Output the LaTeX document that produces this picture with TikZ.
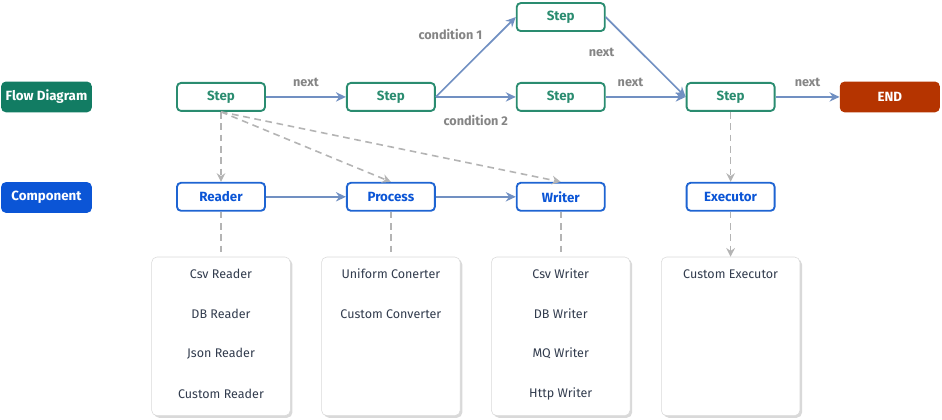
\documentclass[tikz,border=0pt]{standalone}
\usepackage{fontspec}
\setmainfont{Fira Sans}
\usetikzlibrary{arrows.meta,positioning,shadows}
\usepackage{xcolor}
\definecolor{flowgreen}{HTML}{127C63}
\definecolor{stepgreen}{HTML}{2A8C70}
\definecolor{compblue}{HTML}{0B55D6}
\definecolor{boxblue}{HTML}{1E64D2}
\definecolor{endred}{HTML}{B53400}
\definecolor{linkblue}{HTML}{7190C2}
\definecolor{dashgray}{HTML}{B4B4B4}
\definecolor{labelgray}{HTML}{858585}
\definecolor{itemtext}{HTML}{323C4E}
\tikzstyle{flow} = [
    -{Stealth[length=7.5pt,width=7pt]},
    line width=1.25pt,
    draw=linkblue
]
\tikzstyle{uses} = [
    -{Stealth[length=6.5pt,width=6.5pt]},
    line width=1.2pt,
    dash pattern=on 5pt off 3.5pt,
    draw=dashgray
]

\begin{document}
\begin{tikzpicture}[
    node distance=37.5pt and 60pt,
    stepbox/.style={
        draw=stepgreen,
        line width=1.4pt,
        rounded corners=3pt,
        fill=white,
        text=stepgreen,
        font=\fontsize{10}{12}\selectfont\bfseries,
        minimum width=66pt,
        minimum height=21pt
    },
    compbox/.style={
        stepbox,
        draw=boxblue,
        text=compblue
    },
    tagbox/.style={
        rounded corners=3.5pt,
        text=white,
        font=\fontsize{10}{12}\selectfont\bfseries,
        minimum width=68pt,
        minimum height=23pt
    },
    listbox/.style={
        draw=gray!30,
        rounded corners=4pt,
        fill=white,
        minimum width=104pt,
        minimum height=119pt,
        drop shadow={shadow xshift=0.3ex,shadow yshift=-0.3ex,opacity=0.3}
    },
    item/.style={
        font=\fontsize{9.4}{11}\selectfont,
        text=itemtext
    },
    edgelabel/.style={
        font=\fontsize{9.5}{11}\selectfont\bfseries,
        text=labelgray
    },
    link/.style={
        line width=1.2pt,
        dash pattern=on 5pt off 3.5pt,
        draw=dashgray
    }
]
\useasboundingbox (0,0) rectangle (706.5pt,-315pt);

% Nodes
\node (step1) [stepbox] at (165.75pt,-72.7pt) {Step};
\node (step2) [stepbox, right=of step1] {Step};
\node (step3) [stepbox, right=of step2] {Step};
\node (step4) [stepbox, above=of step3] {Step};
\node (step5) [stepbox, right=of step3] {Step};
\node (end) [tagbox, fill=endred, minimum width=75pt, right=48pt of step5] {END};
\node (flow) [tagbox, fill=flowgreen, left=63pt of step1] {Flow Diagram};

\node (reader) [compbox, below=52.5pt of step1] {Reader};
\node (process) [compbox, below=52.5pt of step2] {Process};
\node (writer) [compbox, below=52.5pt of step3] {Writer};
\node (executor) [compbox, below=52.5pt of step5] {Executor};
\node (comp) [tagbox, fill=compblue, below=52pt of flow] {Component};

\node (rlist) [listbox, below=33.75pt of reader] {};
\node (plist) [listbox, below=33.75pt of process] {};
\node (wlist) [listbox, below=33.75pt of writer] {};
\node (elist) [listbox, below=33.75pt of executor] {};

\foreach \t [count=\i] in {Csv Reader, DB Reader, Json Reader, Custom Reader}
    \node (rlist-\i) [item] at ([yshift={-12.75pt-30pt*(\i-1)}]rlist.north) {\t};
\foreach \t [count=\i] in {Uniform Conerter, Custom Converter}
    \node (plist-\i) [item] at ([yshift={-12.75pt-30pt*(\i-1)}]plist.north) {\t};
\foreach \t [count=\i] in {Csv Writer, DB Writer, MQ Writer, Http Writer}
    \node (wlist-\i) [item] at ([yshift={-12.75pt-30pt*(\i-1)}]wlist.north) {\t};
\node (elist-1) [item] at ([yshift=-12.75pt]elist.north) {Custom Executor};

% Edges
\draw[flow] (step1) -- node[edgelabel, above=3.5pt] {next} (step2);
\draw[flow] (step2.east) -- node[edgelabel, pos=0.78, left=8pt] {condition 1} (step4.west);
\draw[flow] (step2) -- node[edgelabel, below=10pt] {condition 2} (step3);
\draw[flow] (step4.east) -- node[edgelabel, pos=0.44, left=16pt] {next} (step5.west);
\draw[flow] (step3) -- node[edgelabel, pos=0.31, above=3.5pt] {next} (step5);
\draw[flow] (step5) -- node[edgelabel, above=3.5pt] {next} (end);
\draw[flow] (reader) -- (process);
\draw[flow] (process) -- (writer);

\draw[uses] (step1) -- (reader);
\draw[uses] (step1.south) -- (process.north);
\draw[uses] (step1.south) -- (writer.north);
\draw[uses] (step5) -- (executor);
\draw[uses] (executor) -- (elist);
\draw[link] (reader) -- (rlist);
\draw[link] (process) -- (plist);
\draw[link] (writer) -- (wlist);

\end{tikzpicture}
\end{document}
